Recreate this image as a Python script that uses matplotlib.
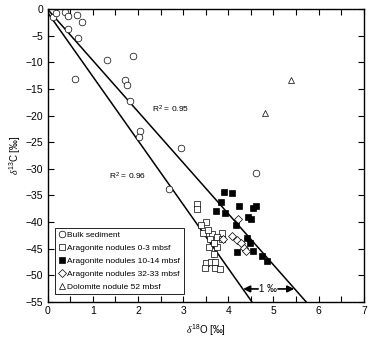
import matplotlib
matplotlib.use('Agg')
from matplotlib import pyplot as plt
from matplotlib.ticker import MultipleLocator
from matplotlib.lines import Line2D

plt.rcParams['font.family'] = ['Liberation Sans', 'DejaVu Sans']
plt.rcParams['mathtext.fontset'] = 'custom'
plt.rcParams['mathtext.rm'] = 'Liberation Sans'
plt.rcParams['mathtext.it'] = 'Liberation Serif:italic'

# bulk sediment
bulk_x = [0.12, 0.18, 0.38, 0.45, 0.65, 0.76, 0.45, 0.67, 1.31, 1.89, 0.60, 1.71, 1.75,
          1.82, 2.04, 2.02, 2.95, 2.68, 4.61]
bulk_y = [-1.45, -0.7, -0.5, -1.26, -1.07, -2.4, -3.7, -5.4, -9.5, -8.8, -13.1, -13.3, -14.2,
          -17.2, -22.9, -24.0, -26.1, -33.8, -30.8]

# aragonite nodules 0-3 mbsf
ara03_x = [3.30, 3.30, 3.50, 3.39, 3.44, 3.64, 3.86, 3.75, 3.59, 3.86, 3.57, 3.75, 3.68,
           3.50, 3.61, 3.70, 3.48, 3.70, 3.81, 3.68, 3.55]
ara03_y = [-36.6, -37.6, -40.0, -40.6, -42.1, -42.3, -42.1, -42.8, -43.2, -43.2, -44.7, -44.7,
           -46.0, -47.7, -47.5, -47.5, -48.7, -48.7, -48.9, -43.9, -41.5]

# aragonite nodules 10-14 mbsf
ara1014_x = [3.90, 4.08, 3.83, 4.23, 3.72, 3.92, 4.54, 4.61, 4.43, 4.50, 4.17, 4.41, 4.48,
             4.19, 4.54, 4.74, 4.85]
ara1014_y = [-34.4, -34.6, -36.2, -37.0, -37.9, -38.3, -37.4, -37.0, -39.1, -39.4, -40.6,
             -43.0, -44.0, -45.7, -45.5, -46.4, -47.3]

# aragonite nodules 32-33 mbsf
ara3233_x = [4.21, 3.88, 4.08, 4.19, 4.28, 4.35, 4.39]
ara3233_y = [-39.4, -43.2, -42.6, -43.4, -44.0, -44.9, -45.5]

# dolomite nodule 52 mbsf
dol_x = [5.38, 4.81]
dol_y = [-13.3, -19.5]

# regression lines
fit96_x = [0.0, 4.52]
fit96_y = [-0.6, -55.0]
fit95_x = [0.0, 5.72]
fit95_y = [0.0, -55.0]

fig = plt.figure(figsize=(3.72, 3.38), dpi=100)
ax = fig.add_axes([0.128, 0.1074, 0.850, 0.8651])

ax.plot(fit96_x, fit96_y, color='black', lw=1.1)
ax.plot(fit95_x, fit95_y, color='black', lw=1.1)

mso = 4.8   # circles / triangles
mss = 4.3   # squares
msd = 4.0   # diamonds
ax.plot(bulk_x, bulk_y, 'o', mfc='white', mec='black', mew=0.5, ms=mso, ls='none')
ax.plot(ara03_x, ara03_y, 's', mfc='white', mec='black', mew=0.5, ms=mss, ls='none')
ax.plot(ara1014_x, ara1014_y, 's', mfc='black', mec='black', mew=0.5, ms=mss, ls='none')
ax.plot(ara3233_x, ara3233_y, 'D', mfc='white', mec='black', mew=0.5, ms=msd, ls='none')
ax.plot(dol_x, dol_y, '^', mfc='white', mec='black', mew=0.5, ms=mso, ls='none')

ax.text(2.31, -18.9, r'R$^2$ = 0.95', fontsize=6, va='center')
ax.text(1.36, -31.4, r'R$^2$ = 0.96', fontsize=6, va='center')

# 1 permil arrow between the lines
ax.text(4.87, -52.6, '1 ‰', fontsize=7, ha='center', va='center')
ax.annotate('', xy=(4.33, -52.6), xytext=(4.66, -52.6),
            arrowprops=dict(arrowstyle='-|>', color='black', lw=1.2,
                            mutation_scale=10, shrinkA=0, shrinkB=0))
ax.annotate('', xy=(5.46, -52.6), xytext=(5.10, -52.6),
            arrowprops=dict(arrowstyle='-|>', color='black', lw=1.2,
                            mutation_scale=10, shrinkA=0, shrinkB=0))

ax.set_xlim(0, 7)
ax.set_ylim(-55, 0)
ax.xaxis.set_major_locator(MultipleLocator(1))
ax.xaxis.set_minor_locator(MultipleLocator(0.5))
ax.yaxis.set_major_locator(MultipleLocator(5))
ax.tick_params(axis='both', which='both', direction='in', top=True, right=True,
               labelsize=7.5, width=0.8, length=4, pad=3)
for s in ax.spines.values():
    s.set_linewidth(1.0)

ax.set_xlabel(r'$\delta^{18}$O [‰]', fontsize=7, labelpad=5)
ax.set_ylabel(r'$\delta^{13}$C [‰]', fontsize=7, labelpad=2)

handles = [
    Line2D([], [], marker='o', ls='none', mfc='white', mec='black', mew=0.5, ms=mso),
    Line2D([], [], marker='s', ls='none', mfc='white', mec='black', mew=0.5, ms=mss),
    Line2D([], [], marker='s', ls='none', mfc='black', mec='black', mew=0.5, ms=mss),
    Line2D([], [], marker='D', ls='none', mfc='white', mec='black', mew=0.5, ms=msd),
    Line2D([], [], marker='^', ls='none', mfc='white', mec='black', mew=0.5, ms=mso),
]
labels = ['Bulk sediment', 'Aragonite nodules 0-3 mbsf', 'Aragonite nodules 10-14 mbsf',
          'Aragonite nodules 32-33 mbsf', 'Dolomite nodule 52 mbsf']
leg = ax.legend(handles, labels, loc='upper left', bbox_to_anchor=(0.023, 0.252),
                borderaxespad=0, fontsize=6, handlelength=0.8, handletextpad=0.3,
                labelspacing=0.6, borderpad=0.4, fancybox=False, framealpha=1,
                edgecolor='black')
leg.get_frame().set_linewidth(0.6)

fig.savefig('out.png', dpi=100)
